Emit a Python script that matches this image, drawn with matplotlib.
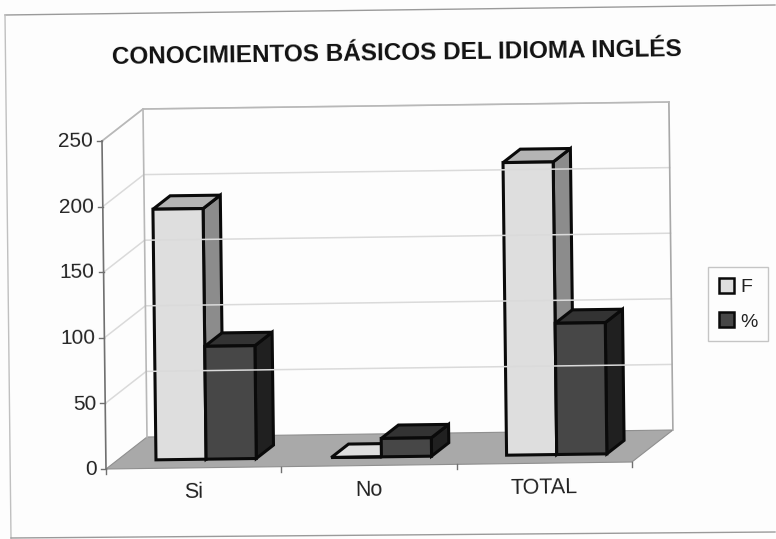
import matplotlib
matplotlib.use("Agg")
import matplotlib.pyplot as plt
from matplotlib.patches import Polygon, Patch
from matplotlib.transforms import Affine2D
import numpy as np

categories = ["Si", "No", "TOTAL"]
f_values = [191, 0, 223]
pct_values = [86, 14, 100]
y_ticks = [0, 50, 100, 150, 200, 250]
title = "CONOCIMIENTOS BÁSICOS DEL IDIOMA INGLÉS"

plt.rcParams["font.family"] = ["Liberation Sans", "DejaVu Sans"]
W, H = 776, 539
fig = plt.figure(figsize=(W / 100, H / 100), dpi=100, facecolor="#fdfdfd")
ax = fig.add_axes([0, 0, 1, 1])
ax.set_xlim(0, W)
ax.set_ylim(H, 0)
ax.axis("off")

# chart space (category, value, depth) -> picture position
O = np.array([106.0, 469.0])
UX = np.array([175.3, -2.33])
UY = np.array([-0.016, -1.312])
UD = np.array([41.0, -32.0])
ROT = 0.8


def P(x, y, d=0.0):
    return tuple(O + x * UX + y * UY + d * UD)


def front_transform(d):
    s = d * UD
    return Affine2D().from_values(UX[0], UX[1], UY[0], UY[1], O[0] + s[0], O[1] + s[1]) + ax.transData


ymax = max(y_ticks)
n = len(categories)

# sheet frame
ax.plot([5, 775], [15, 5], color="#9a9a9a", lw=1.0)
ax.plot([5, 11], [15, 538], color="#c0c0c0", lw=1.0)
ax.plot([11, 775], [538, 532], color="#9a9a9a", lw=1.0)

# floor and walls
ax.add_patch(Polygon([P(0, 0), P(n, 0), P(n, 0, 1), P(0, 0, 1)], fc="#a9a9a9", ec="#8f8f8f", lw=0.8))
for v in y_ticks[1:]:
    ax.plot(*zip(P(0, v), P(0, v, 1), P(n, v, 1)), color="#dadada", lw=1.1)
ax.plot(*zip(P(0, 0, 1), P(0, ymax, 1)), color="#b8b8b8", lw=1.2)
ax.plot(*zip(P(n, 0, 1), P(n, ymax, 1)), color="#a8a8a8", lw=1.2)
ax.plot(*zip(P(0, ymax), P(0, ymax, 1), P(n, ymax, 1)), color="#b8b8b8", lw=1.2)
ax.plot(*zip(P(0, 0), P(0, ymax)), color="#707070", lw=1.2)

# ticks
for v in y_ticks:
    px, py = P(0, v)
    ax.plot([px - 5, px], [py, py], color="#707070", lw=1.0)
    ax.text(px - 9, py + 0.5, str(v), ha="right", va="center", fontsize=15, color="#222222", rotation=ROT)
for i in range(n + 1):
    px, py = P(i, 0)
    ax.plot([px, px], [py, py + 5], color="#707070", lw=1.0)
for i, c in enumerate(categories):
    px, py = P(i + 0.5, 0)
    ax.text(px, py + 24.5, c, ha="center", va="center", fontsize=15.5, color="#222222", rotation=ROT)

# bars
BAR_W = 0.286
BAR_X0 = 0.222
D0 = 0.27
BAR_D = 0.42
series = [
    (f_values, 0, "#dedede", "#8c8c8c", "#b4b4b4"),
    (pct_values, 1, "#474747", "#202020", "#333333"),
]
tr = front_transform(D0)
for i in range(n):
    for vals, k, c_front, c_side, c_top in series:
        v = vals[i]
        x0 = i + BAR_X0 + k * BAR_W
        x1 = x0 + BAR_W
        d1 = D0 + BAR_D
        ax.add_patch(Polygon([P(x1, 0, D0), P(x1, 0, d1), P(x1, v, d1), P(x1, v, D0)],
                             fc=c_side, ec="#0a0a0a", lw=2.2, joinstyle="miter"))
        ax.add_patch(Polygon([P(x0, v, D0), P(x1, v, D0), P(x1, v, d1), P(x0, v, d1)],
                             fc=c_top if v > 0 else c_front, ec="#0a0a0a", lw=2.2, joinstyle="miter"))
        ax.bar([x0], [v], width=BAR_W, align="edge", color=c_front, edgecolor="#0a0a0a",
               linewidth=2.2, transform=tr)

# title
ax.text(397, 54, title, ha="center", va="center", fontsize=17.5, fontweight="bold",
        color="#111111", rotation=ROT)

# legend
handles = [Patch(fc="#dedede", ec="#0a0a0a", lw=1.8, label="F"),
           Patch(fc="#474747", ec="#0a0a0a", lw=1.8, label="%")]
leg = ax.legend(handles=handles, loc="upper left", bbox_to_anchor=(708 / W, 1 - 267 / H),
                bbox_transform=fig.transFigure, borderaxespad=0, frameon=True, fancybox=False,
                fontsize=14, handlelength=0.8, handleheight=0.8, handletextpad=0.3,
                labelspacing=0.85, borderpad=0.55, labelcolor="#222222")
leg.get_frame().set_edgecolor("#b8b8b8")
leg.get_frame().set_facecolor("#fdfdfd")
leg.get_frame().set_linewidth(1.0)

fig.savefig("out.png", dpi=100, facecolor=fig.get_facecolor())
